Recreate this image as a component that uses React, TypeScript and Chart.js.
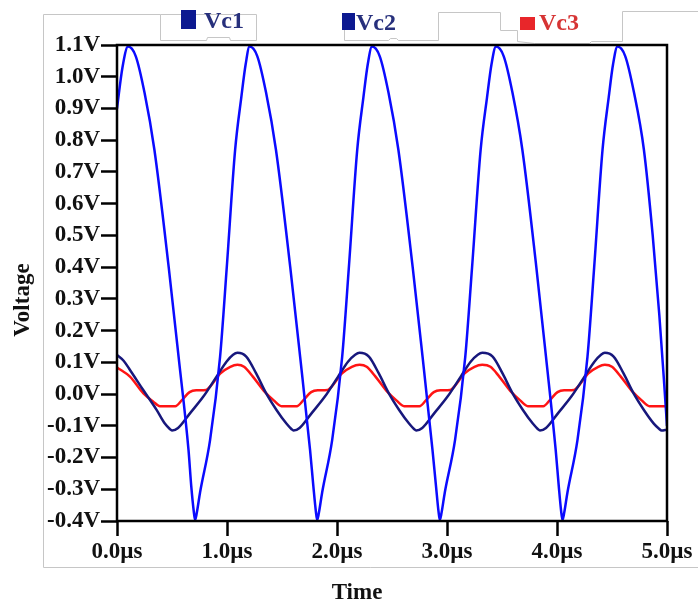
import React, { useEffect, useRef } from 'react';
import { Chart, registerables } from 'chart.js';

Chart.register(...registerables);

// Transient simulation of three capacitor voltages, 0 – 5 µs.
const seriesNames = ['Vc1', 'Vc2', 'Vc3'];
const seriesColors = ['#0b0bff', '#17177c', '#ff1414'];
const legendSwatchColors = ['#0c1990', '#0c1990', '#e8262a'];
const legendTextColors = ['#27307c', '#27307c', '#d63434'];

const timeMin = 0;
const timeMax = 5;
const timeStep = 1;
const voltMin = -0.4;
const voltMax = 1.1;
const voltStep = 0.1;

// Vc1 (µs, V)
const vc1Time = [
  0, 0.05, 0.1, 0.17, 0.25, 0.34, 0.47, 0.56, 0.65, 0.675, 0.698, 0.71,
  0.725, 0.755, 0.846, 0.937, 0.998, 1.074, 1.13, 1.17, 1.205,
  1.275, 1.355, 1.445, 1.575, 1.665, 1.755, 1.785, 1.808, 1.82,
  1.835, 1.865, 1.956, 2.047, 2.108, 2.184, 2.24, 2.28, 2.318,
  2.388, 2.468, 2.558, 2.688, 2.778, 2.868, 2.9, 2.923, 2.935,
  2.95, 2.98, 3.073, 3.166, 3.228, 3.306, 3.364, 3.405, 3.445,
  3.515, 3.595, 3.685, 3.812, 3.9, 3.988, 4.016, 4.038, 4.05,
  4.065, 4.095, 4.186, 4.277, 4.338, 4.414, 4.47, 4.51, 4.55,
  4.62, 4.7, 4.79, 4.87, 4.93, 4.975, 5.0,
];
const vc1Volts = [
  0.9, 1.03, 1.095, 1.065, 0.95, 0.77, 0.4, 0.117, -0.176, -0.29, -0.37, -0.397,
  -0.375, -0.31, -0.145, 0.117, 0.4, 0.77, 0.935, 1.04, 1.095,
  1.065, 0.95, 0.77, 0.4, 0.117, -0.176, -0.29, -0.37, -0.397,
  -0.375, -0.31, -0.145, 0.117, 0.4, 0.77, 0.935, 1.04, 1.095,
  1.065, 0.95, 0.77, 0.4, 0.117, -0.176, -0.29, -0.37, -0.397,
  -0.375, -0.31, -0.145, 0.117, 0.4, 0.77, 0.935, 1.04, 1.095,
  1.065, 0.95, 0.77, 0.4, 0.117, -0.176, -0.29, -0.37, -0.397,
  -0.375, -0.31, -0.145, 0.117, 0.4, 0.77, 0.935, 1.04, 1.095,
  1.065, 0.95, 0.77, 0.5, 0.25, 0.03, -0.1,
];

// Vc2 (µs, V)
const vc2Time = [
  0, 0.06, 0.118, 0.24, 0.36, 0.435, 0.48, 0.5,
  0.555, 0.665, 0.785, 0.905, 0.995, 1.055, 1.095,
  1.175, 1.265, 1.355, 1.45, 1.54, 1.585, 1.605,
  1.66, 1.77, 1.89, 2.01, 2.1, 2.165, 2.205,
  2.29, 2.38, 2.47, 2.565, 2.655, 2.7, 2.72,
  2.775, 2.885, 3.005, 3.125, 3.215, 3.28, 3.32,
  3.415, 3.505, 3.595, 3.69, 3.78, 3.825, 3.845,
  3.9, 4.01, 4.13, 4.25, 4.34, 4.4, 4.435,
  4.515, 4.605, 4.695, 4.79, 4.88, 4.93, 4.95, 5.0,
];
const vc2Volts = [
  0.123, 0.105, 0.076, 0.012, -0.05, -0.093, -0.11, -0.115,
  -0.107, -0.06, -0.008, 0.055, 0.102, 0.124, 0.13,
  0.118, 0.065, 0.003, -0.05, -0.093, -0.11, -0.115,
  -0.107, -0.06, -0.008, 0.055, 0.102, 0.124, 0.13,
  0.118, 0.065, 0.003, -0.05, -0.093, -0.11, -0.115,
  -0.107, -0.06, -0.008, 0.055, 0.102, 0.124, 0.13,
  0.118, 0.065, 0.003, -0.05, -0.093, -0.11, -0.115,
  -0.107, -0.06, -0.008, 0.055, 0.102, 0.124, 0.13,
  0.118, 0.065, 0.003, -0.05, -0.093, -0.11, -0.115, -0.112,
];

// Vc3 (µs, V)
const vc3Time = [
  0, 0.118, 0.24, 0.33, 0.39, 0.53,
  0.59, 0.66, 0.72, 0.81, 0.85, 0.94, 1.03, 1.095,
  1.155, 1.235, 1.335, 1.425, 1.495, 1.635,
  1.695, 1.765, 1.825, 1.915, 1.955, 2.045, 2.135, 2.205,
  2.27, 2.35, 2.45, 2.54, 2.61, 2.75,
  2.81, 2.88, 2.94, 3.03, 3.07, 3.16, 3.25, 3.32,
  3.395, 3.475, 3.575, 3.665, 3.735, 3.875,
  3.935, 4.005, 4.065, 4.155, 4.195, 4.285, 4.375, 4.435,
  4.5, 4.58, 4.68, 4.77, 4.84, 5.0,
];
const vc3Volts = [
  0.084, 0.055, 0.002, -0.024, -0.038, -0.038,
  -0.019, 0.006, 0.012, 0.013, 0.025, 0.065, 0.086, 0.092,
  0.086, 0.055, 0.01, -0.02, -0.038, -0.038,
  -0.019, 0.006, 0.012, 0.013, 0.025, 0.065, 0.086, 0.092,
  0.086, 0.055, 0.01, -0.02, -0.038, -0.038,
  -0.019, 0.006, 0.012, 0.013, 0.025, 0.065, 0.086, 0.092,
  0.086, 0.055, 0.01, -0.02, -0.038, -0.038,
  -0.019, 0.006, 0.012, 0.013, 0.025, 0.065, 0.086, 0.092,
  0.086, 0.055, 0.01, -0.02, -0.038, -0.038,
];

const seriesTimes = [vc1Time, vc2Time, vc3Time];
const seriesVolts = [vc1Volts, vc2Volts, vc3Volts];

const FONT = '"Liberation Serif", "Times New Roman", serif';
const W = 698;
const H = 606;

const toPoints = (ts: number[], vs: number[]) => ts.map((t, i) => ({ x: t, y: vs[i] }));

const fmt = (v: number, unit: string) => {
  const n = Math.abs(v) < 1e-9 ? 0 : v;
  return n.toFixed(1) + unit;
};

// Light grey window outline and the captions around the plot.
const decorPlugin = {
  id: 'decor',
  beforeDraw(chart: any) {
    const ctx = chart.ctx;
    ctx.save();
    ctx.fillStyle = '#ffffff';
    ctx.fillRect(0, 0, W, H);
    ctx.strokeStyle = '#c6c6c6';
    ctx.lineWidth = 1;
    const paths: number[][][] = [
      [[43.5, 567.5], [43.5, 14.5], [160.5, 14.5]],
      [[160.5, 14.5], [160.5, 40.5], [206.5, 40.5], [207.5, 37.5], [229.5, 37.5], [230.5, 40.5], [256.5, 40.5], [256.5, 14.5], [160.5, 14.5]],
      [[344.5, 26.5], [344.5, 40.5], [388.5, 40.5], [390.5, 38.5], [396.5, 38.5], [398.5, 40.5], [438.5, 40.5], [438.5, 12.5], [500.5, 12.5], [500.5, 30.5], [517.5, 30.5], [517.5, 41.5], [534.5, 43.5], [589.5, 43.5], [591.5, 41.5], [622.5, 41.5], [622.5, 11.5], [698, 11.5]],
      [[43.5, 567.5], [698, 567.5]],
    ];
    for (const p of paths) {
      ctx.beginPath();
      p.forEach(([x, y], i) => (i ? ctx.lineTo(x, y) : ctx.moveTo(x, y)));
      ctx.stroke();
    }
    ctx.restore();
  },
  afterDatasetsDraw(chart: any) {
    const { ctx, chartArea: a } = chart;
    ctx.save();
    ctx.strokeStyle = '#000';
    ctx.lineWidth = 2.5;
    ctx.strokeRect(a.left, a.top, a.right - a.left, a.bottom - a.top);
    ctx.restore();
  },
  afterDraw(chart: any) {
    const ctx = chart.ctx;
    ctx.save();
    ctx.fillStyle = '#111';
    ctx.font = `bold 23px ${FONT}`;
    ctx.textAlign = 'center';
    ctx.textBaseline = 'middle';
    ctx.fillText('Time', 357, 593);
    ctx.save();
    ctx.translate(23, 300);
    ctx.rotate(-Math.PI / 2);
    ctx.fillText('Voltage', 0, 0);
    ctx.restore();

    // legend
    const swatches = [
      [181, 10, 15, 19],
      [342, 13, 13, 17],
      [520, 17, 15, 13],
    ];
    const textPos = [
      [204, 28],
      [356, 30],
      [539, 30],
    ];
    ctx.font = `bold 24px ${FONT}`;
    ctx.textAlign = 'left';
    ctx.textBaseline = 'alphabetic';
    seriesNames.forEach((name, i) => {
      const [x, y, w, h] = swatches[i];
      ctx.fillStyle = legendSwatchColors[i];
      ctx.fillRect(x, y, w, h);
      ctx.fillStyle = legendTextColors[i];
      ctx.fillText(name, textPos[i][0], textPos[i][1]);
    });
    ctx.restore();
  },
};

export default function App() {
  const ref = useRef<HTMLCanvasElement>(null);

  useEffect(() => {
    document.body.style.margin = '0';
    const canvas = ref.current;
    if (!canvas) return;

    const chart = new Chart(canvas, {
      type: 'line',
      data: {
        datasets: seriesNames.map((name, i) => ({
          label: name,
          data: toPoints(seriesTimes[i], seriesVolts[i]),
          borderColor: seriesColors[i],
          backgroundColor: seriesColors[i],
          borderWidth: 2.5,
          pointRadius: 0,
          fill: false,
          cubicInterpolationMode: 'monotone' as const,
        })),
      },
      options: {
        animation: false,
        responsive: false,
        events: [],
        layout: { padding: { left: 0, right: 31, top: 45, bottom: 0 } },
        plugins: {
          legend: { display: false },
          tooltip: { enabled: false },
          title: { display: false },
        },
        scales: {
          x: {
            type: 'linear',
            min: timeMin,
            max: timeMax,
            border: { display: false },
            grid: {
              drawOnChartArea: false,
              drawTicks: true,
              tickLength: 15,
              tickWidth: 2.5,
              tickColor: '#000',
            },
            ticks: {
              stepSize: timeStep,
              autoSkip: false,
              maxRotation: 0,
              padding: 2,
              color: '#111',
              font: { family: FONT, size: 23, weight: 'bold' },
              callback: (v: any) => fmt(Number(v), 'µs'),
            },
            afterFit: (s: any) => {
              s.height = 85;
            },
          },
          y: {
            type: 'linear',
            min: voltMin,
            max: voltMax,
            border: { display: false },
            grid: {
              drawOnChartArea: false,
              drawTicks: true,
              tickLength: 16,
              tickWidth: 2.5,
              tickColor: '#000',
            },
            ticks: {
              stepSize: voltStep,
              autoSkip: false,
              padding: 1,
              color: '#111',
              font: { family: FONT, size: 23, weight: 'bold' },
              callback: (v: any) => fmt(Number(v), 'V'),
            },
            afterFit: (s: any) => {
              s.width = 117;
            },
          },
        },
      },
      plugins: [decorPlugin],
    });

    return () => chart.destroy();
  }, []);

  return (
    <div style={{ width: W, height: H }}>
      <canvas ref={ref} width={W} height={H} style={{ display: 'block' }} />
    </div>
  );
}
